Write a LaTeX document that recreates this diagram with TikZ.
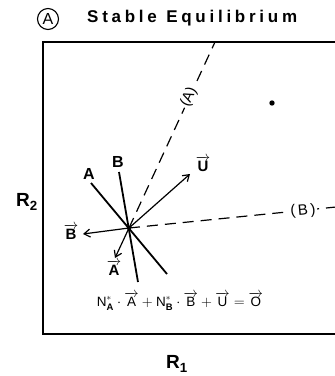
\documentclass[tikz,border=0pt]{standalone}
\usepackage{amsmath}
\usepackage{fontspec}
\setmainfont{Liberation Sans}
\usetikzlibrary{arrows.meta}
\newcommand\vlab[1]{$\overrightarrow{\text{#1}}$}
\begin{document}
\begin{tikzpicture}[x=1pt,y=-1pt,
  vecarrow/.style={line width=1.2pt,-{Straight Barb[length=6pt,width=8pt]}},
  plane/.style={line width=1.8pt},
  dashline/.style={line width=1.2pt,dash pattern=on 11pt off 7pt},
  boxline/.style={line width=1.5pt},
  lbl/.style={font=\bfseries\fontsize{16}{16}\selectfont, inner sep=1pt},
  vlbl/.style={font=\bfseries\fontsize{15}{15}\selectfont, inner sep=1pt},
  axlbl/.style={font=\bfseries\fontsize{19}{19}\selectfont, inner sep=1pt},
  dlbl/.style={font=\fontsize{15}{15}\selectfont, inner sep=1.5pt, fill=white}]
\useasboundingbox (0,0) rectangle (335,376);
% title
\node[draw, circle, line width=1.1pt, minimum size=21pt, inner sep=0pt, font=\fontsize{16}{16}\selectfont] (circA) at (48,19) {A};
\node[anchor=west, inner sep=0pt, font=\bfseries\fontsize{17}{17}\selectfont\addfontfeature{LetterSpace=22}] (title) at (87,18) {Stable\hspace{0.55em}Equilibrium};
% frame
\coordinate (tr) at (340,42);
\coordinate (tl) at (43,42);
\coordinate (bl) at (43,334);
\coordinate (br) at (340,334);
\draw[boxline] (tr) -- (tl) -- (bl) -- (br);
% axis labels
\node[axlbl] (R2) at (27,202) {R\textsubscript{2}};
\node[axlbl] (R1) at (177,364) {R\textsubscript{1}};
% center
\coordinate (c) at (129,228);
% dashed lines
\coordinate (Aend) at (215,42);
\coordinate (Bend) at (336,207);
\draw[dashline] (c) -- (Aend);
\draw[dashline] (c) -- (Bend);
\node[dlbl, rotate=65] (labA) at (189,97) {(A)};
\node[dlbl, rotate=5] (labB) at (303,211) {(\,B\,)};
% planes
\coordinate (A1) at (91,183);
\coordinate (A2) at (167,274);
\coordinate (B1) at (119,172);
\coordinate (B2) at (138,282);
\draw[plane] (A1) -- (A2);
\draw[plane] (B1) -- (B2);
\node[lbl] (lA) at (89,174) {A};
\node[lbl] (lB) at (118,162) {B};
% vectors
\coordinate (Utip) at (190,174);
\coordinate (Btip) at (83,234);
\coordinate (Atip) at (115,258);
\draw[vecarrow] (c) -- (Utip);
\draw[vecarrow] (c) -- (Btip);
\draw[vecarrow] (c) -- (Atip);
\fill (c) circle (2.2pt);
\node[vlbl] (vU) at (203,164) {\vlab{U}};
\node[vlbl] (vB) at (71,232) {\vlab{B}};
\node[vlbl] (vA) at (114,268) {\vlab{A}};
% dot
\fill (272,103) circle (2.7pt);
% equation
\node[font=\fontsize{13.5}{15}\selectfont, inner sep=0pt] (eq) at (180,301) {$\text{N}^{*}_{\textbf{A}}\cdot\overrightarrow{\text{A}}+\text{N}^{*}_{\textbf{B}}\cdot\overrightarrow{\text{B}}+\overrightarrow{\text{U}}=\overrightarrow{\text{O}}$};
\end{tikzpicture}
\end{document}
